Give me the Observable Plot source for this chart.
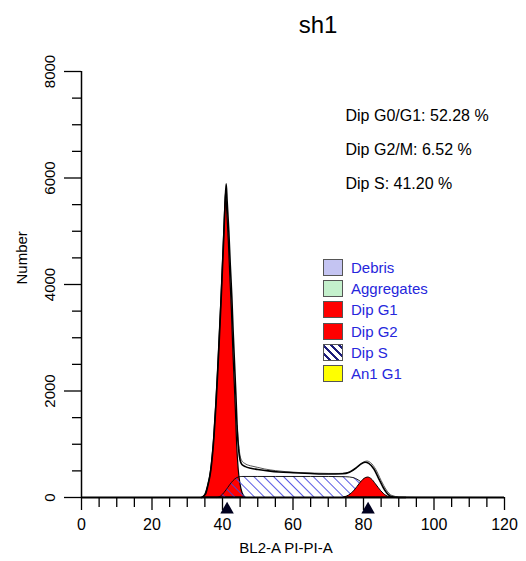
<!DOCTYPE html>
<html>
<head>
<meta charset="utf-8">
<script src="https://cdn.jsdelivr.net/npm/d3@7"></script>
<script src="https://cdn.jsdelivr.net/npm/@observablehq/plot@0.6"></script>
<style>
  body { margin: 0; background: white; }
  #wrap { position: relative; width: 526px; height: 561px; font-family: 'Liberation Sans', Arial, sans-serif; }
  #legend { position: absolute; left: 323px; top: 257px; }
  .row { display: flex; align-items: center; height: 21.2px; }
  .sw { width: 20px; height: 17px; box-sizing: border-box; border: 1px solid #555; }
  .lab { margin-left: 8px; font-size: 15px; color: #2626dc; }
</style>
</head>
<body>
<div id="wrap"></div>
<script>
// ---- data (x in channel units, y in counts) ----
const titleText = "sh1";
const xLabel = "BL2-A PI-PI-A";
const yLabel = "Number";
const statsLines = ["Dip G0/G1: 52.28 %", "Dip G2/M: 6.52 %", "Dip S: 41.20 %"];

const xTicks = [0, 20, 40, 60, 80, 100, 120];
const xMinorTicks = [5, 10, 15, 25, 30, 35, 45, 50, 55, 65, 70, 75, 85, 90, 95, 105, 110, 115];
const yTicks = [0, 2000, 4000, 6000, 8000];
const yMinorTicks = [500, 1000, 1500, 2500, 3000, 3500, 4500, 5000, 5500, 6500, 7000, 7500];

// Dip G1 component
const g1X = [34.5, 35.2, 35.8, 36.7, 37.6, 38.2, 38.7, 39.15, 39.6, 40.0, 40.4, 40.75, 41.05, 41.3, 41.8, 42.2, 42.65, 43.0, 43.4, 43.8, 44.15, 44.6, 45.1, 45.7, 46.5];
const g1Y = [0, 60, 190, 480, 1100, 1730, 2350, 2970, 3600, 4220, 4840, 5420, 5750, 5420, 4800, 4170, 3530, 2880, 2250, 1620, 1000, 520, 250, 80, 0];
// Dip S component
const sX = [38.5, 39.5, 40.5, 41.5, 42.5, 43.5, 44.5, 45.5, 50, 55, 60, 65, 70, 75, 77, 78.5, 80, 81.5, 83, 84.5, 86];
const sY = [0, 30, 100, 190, 280, 350, 385, 395, 395, 395, 395, 395, 395, 390, 375, 330, 260, 180, 100, 35, 0];
// Dip G2 component
const g2X = [74.5, 76, 77.5, 79, 80.3, 81.3, 82.3, 83.5, 85, 86.5, 88];
const g2Y = [0, 40, 130, 260, 350, 375, 345, 250, 120, 30, 0];
// model total
const totX = [34, 35.2, 35.8, 36.7, 37.6, 38.2, 38.7, 39.15, 39.6, 40.0, 40.4, 40.75, 41.05, 41.3, 41.8, 42.2, 42.65, 43.0, 43.4, 43.8, 44.15, 44.6, 45.0, 45.5, 46.5, 48, 50, 53, 56, 60, 65, 70, 74, 76, 78, 79.5, 80.5, 81.5, 83, 84.5, 86, 87.5, 89, 92];
const totY = [0, 70, 210, 520, 1160, 1800, 2430, 3060, 3700, 4330, 4960, 5560, 5890, 5580, 4980, 4370, 3760, 3140, 2530, 1920, 1320, 880, 700, 620, 580, 550, 525, 500, 480, 465, 450, 440, 445, 475, 560, 640, 663, 640, 530, 330, 140, 30, 5, 0];
// measured histogram
const dataX = [44.15, 44.6, 45, 45.5, 46.3, 47, 48, 50, 52, 55, 58, 62, 66, 70, 73, 75, 77, 78.5, 80, 81, 82, 83.5, 85, 86.5, 88, 90, 95, 105, 120];
const dataY = [1350, 980, 780, 690, 640, 615, 595, 565, 535, 505, 485, 468, 458, 452, 452, 462, 510, 590, 665, 685, 655, 525, 320, 140, 40, 12, 5, 3, 0];

const peakMarkers = [41.3, 81.3];

const legendLabels = ["Debris", "Aggregates", "Dip G1", "Dip G2", "Dip S", "An1 G1"];
const legendColors = ["#c4c4f2", "#c4f0cc", "#ff0000", "#ff0000", "hatch", "#ffff00"];

const toRows = (xs, ys) => xs.map((x, i) => ({x, y: ys[i]}));
const g1 = toRows(g1X, g1Y), sPh = toRows(sX, sY), g2 = toRows(g2X, g2Y);
const tot = toRows(totX, totY), hist = toRows(dataX, dataY);

const defs = () => {
  const d = d3.create("svg:defs");
  const p = d.append("pattern").attr("id", "hatch").attr("patternUnits", "userSpaceOnUse")
    .attr("width", 7).attr("height", 7).attr("patternTransform", "rotate(-45)");
  p.append("line").attr("x1", 3.5).attr("y1", -1).attr("x2", 3.5).attr("y2", 8)
    .attr("stroke", "#4646e0").attr("stroke-width", 0.9);
  return d.node();
};

const curve = "monotone-x";
const chart = Plot.plot({
  width: 526, height: 561,
  marginLeft: 81, marginRight: 22, marginTop: 71, marginBottom: 64,
  x: {domain: [0, 120]},
  y: {domain: [0, 8000]},
  style: {fontFamily: "'Liberation Sans', Arial, sans-serif", background: "white", color: "black", overflow: "visible"},
  marks: [
    defs,
    Plot.areaY(g1, {x: "x", y: "y", fill: "#ff0000", stroke: "black", strokeWidth: 1.2, curve}),
    Plot.areaY(sPh, {x: "x", y: "y", fill: "url(#hatch)", curve}),
    Plot.lineY(sPh, {x: "x", y: "y", stroke: "black", strokeWidth: 0.9, curve}),
    Plot.areaY(g2, {x: "x", y: "y", fill: "#ff0000", stroke: "black", strokeWidth: 1, curve}),
    Plot.lineY(hist, {x: "x", y: "y", stroke: "#555", strokeWidth: 1, curve}),
    Plot.lineY(tot, {x: "x", y: "y", stroke: "black", strokeWidth: 1.6, curve}),
    Plot.ruleX([0], {stroke: "black", strokeWidth: 1.5}),
    Plot.ruleY([0], {stroke: "black", strokeWidth: 2.2}),
    Plot.axisX(xMinorTicks, {tickSize: 10, tickFormat: () => "", label: null, strokeWidth: 1.3}),
    Plot.axisX(xTicks, {tickSize: 13, tickPadding: 8, fontSize: 16, label: null, strokeWidth: 1.3}),
    Plot.axisY(yMinorTicks, {tickSize: 9, tickFormat: () => "", label: null, strokeWidth: 1.3}),
    Plot.axisY(yTicks, {tickSize: 17, tickFormat: () => "", label: null, strokeWidth: 1.3}),
    Plot.text(yTicks, {y: d => d, text: d => String(d), frameAnchor: "left", dx: -31, rotate: -90,
      textAnchor: "middle", lineAnchor: "middle", fontSize: 15}),
    Plot.dot(peakMarkers, {x: d => d, frameAnchor: "bottom", dy: 12, symbol: "triangle", r: 5, fill: "#00001e"}),
    Plot.text([titleText], {text: d => d, frameAnchor: "top", dx: 25, dy: -46, fontSize: 24, lineAnchor: "middle"}),
    Plot.text([yLabel], {text: d => d, frameAnchor: "left", dx: -59, rotate: -90, fontSize: 15, lineAnchor: "middle"}),
    Plot.text([xLabel], {text: d => d, frameAnchor: "bottom", dx: -7, dy: 51, fontSize: 15, lineAnchor: "middle"}),
    Plot.text([statsLines.join("\n")], {text: d => d, frameAnchor: "top-left", dx: 264, dy: 26,
      textAnchor: "start", lineAnchor: "top", lineHeight: 2.1, fontSize: 16})
  ]
});

const wrap = document.getElementById("wrap");
wrap.appendChild(chart);
const legend = document.createElement("div");
legend.id = "legend";
legendLabels.forEach((lab, i) => {
  const row = document.createElement("div"); row.className = "row";
  const sw = document.createElement("div"); sw.className = "sw";
  if (legendColors[i] === "hatch") {
    sw.style.background = "repeating-linear-gradient(45deg, #ffffff 0 3.5px, #1c1c7a 3.5px 5.5px)";
  } else sw.style.background = legendColors[i];
  const t = document.createElement("span"); t.className = "lab"; t.textContent = lab;
  row.appendChild(sw); row.appendChild(t); legend.appendChild(row);
});
wrap.appendChild(legend);
</script>
</body>
</html>
